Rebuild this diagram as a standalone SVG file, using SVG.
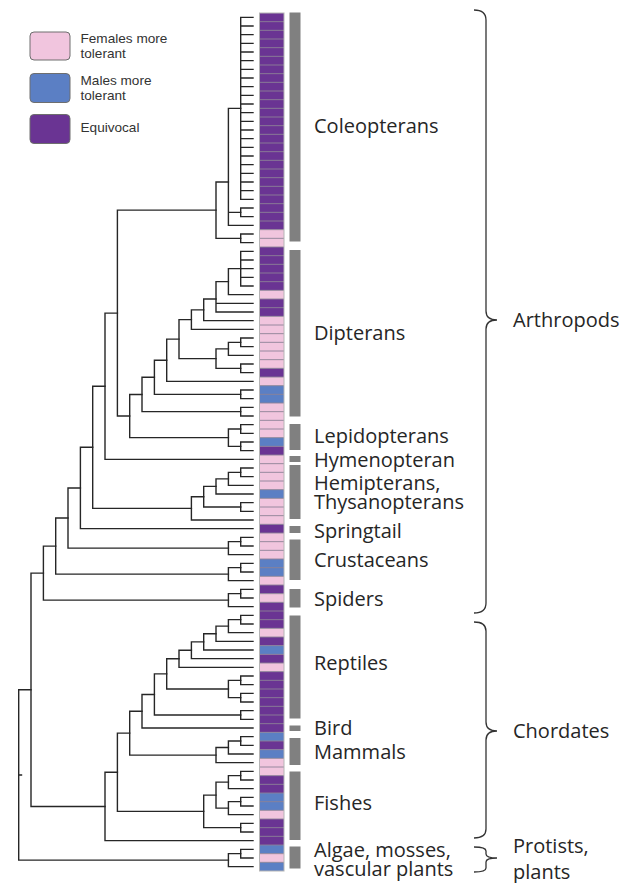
<svg xmlns="http://www.w3.org/2000/svg" width="630" height="883" viewBox="0 0 630 883">
<style>
.tree{fill:none;stroke:#262626;stroke-width:1.4;stroke-linecap:square}
.F{fill:#f1c5de}
.M{fill:#5b7fc4}
.E{fill:#6a3493}
.sep{fill:none;stroke:#8c8296;stroke-width:0.9}
.bar{fill:#808080}
.lg{stroke:#6e6e6e;stroke-width:1}
.lt{font-family:"Liberation Sans",Arial,sans-serif;font-size:13.6px;fill:#333}
.lab{font-family:"Open Sans","Noto Sans",sans-serif;font-size:20px;fill:#262626}
.brace{fill:none;stroke:#333;stroke-width:1.3}
</style>
<rect width="630" height="883" fill="#fff"/>
<g id="legend">
<rect class="lg F" x="30" y="32" width="40" height="28" rx="4"/>
<rect class="lg M" x="30" y="73.5" width="40" height="29" rx="4"/>
<rect class="lg E" x="30" y="114.5" width="40" height="29" rx="4"/>
<text class="lt" x="80.5" y="43">Females more</text>
<text class="lt" x="80.5" y="57.5">tolerant</text>
<text class="lt" x="80.5" y="84.5">Males more</text>
<text class="lt" x="80.5" y="99.5">tolerant</text>
<text class="lt" x="80.5" y="132">Equivocal</text>
</g>
<g id="connectors" class="tree">
<path d="M240.7,17.33V199.33M240.7,17.33H253M240.7,26H253M240.7,34.67H253M240.7,43.33H253M240.7,52H253M240.7,60.67H253M240.7,69.33H253M240.7,78H253M240.7,86.67H253M240.7,95.33H253M240.7,104H253M240.7,112.67H253M240.7,121.33H253M240.7,130H253M240.7,138.67H253M240.7,147.33H253M240.7,156H253M240.7,164.67H253M240.7,173.33H253M240.7,182H253M240.7,190.67H253M240.7,199.33H253"/>
<path d="M240.7,208V216.67M240.7,208H253M240.7,216.67H253"/>
<path d="M228.4,108.33V225.33M228.4,108.33H240.7M228.4,212.33H240.7M228.4,225.33H253"/>
<path d="M240.7,234V242.67M240.7,234H253M240.7,242.67H253"/>
<path d="M216,182V238.33M216,182H228.4M216,238.33H240.7"/>
<path d="M240.7,251.33V286M240.7,251.33H253M240.7,260H253M240.7,268.67H253M240.7,277.33H253M240.7,286H253"/>
<path d="M228.4,268.67V294.67M228.4,268.67H240.7M228.4,294.67H253"/>
<path d="M216,281.67V312M216,281.67H228.4M216,303.33H253M216,312H253"/>
<path d="M203.7,299V320.67M203.7,299H216M203.7,320.67H253"/>
<path d="M191.4,309.83V329.33M191.4,309.83H203.7M191.4,329.33H253"/>
<path d="M240.7,338V346.67M240.7,338H253M240.7,346.67H253"/>
<path d="M228.4,342.33V355.33M228.4,342.33H240.7M228.4,355.33H253"/>
<path d="M240.7,364V372.67M240.7,364H253M240.7,372.67H253"/>
<path d="M216,348.83V368.33M216,348.83H228.4M216,368.33H240.7"/>
<path d="M179,319.58V358.58M179,319.58H191.4M179,358.58H216"/>
<path d="M166.7,339.08V381.33M166.7,339.08H179M166.7,381.33H253"/>
<path d="M240.7,390V398.67M240.7,390H253M240.7,398.67H253"/>
<path d="M154.4,360.21V394.33M154.4,360.21H166.7M154.4,394.33H240.7"/>
<path d="M240.7,407.33V416M240.7,407.33H253M240.7,416H253"/>
<path d="M142,377.27V411.67M142,377.27H154.4M142,411.67H240.7"/>
<path d="M240.7,424.67V433.33M240.7,424.67H253M240.7,433.33H253"/>
<path d="M240.7,442V450.67M240.7,442H253M240.7,450.67H253"/>
<path d="M228.4,429V446.33M228.4,429H240.7M228.4,446.33H240.7"/>
<path d="M129.7,394.47V437.67M129.7,394.47H142M129.7,437.67H228.4"/>
<path d="M117.4,210.17V416.07M117.4,210.17H216M117.4,416.07H129.7"/>
<path d="M105,313.12V459.33M105,313.12H117.4M105,459.33H253"/>
<path d="M240.7,468V476.67M240.7,468H253M240.7,476.67H253"/>
<path d="M228.4,472.33V485.33M228.4,472.33H240.7M228.4,485.33H253"/>
<path d="M216,478.83V494M216,478.83H228.4M216,494H253"/>
<path d="M240.7,502.67V511.33M240.7,502.67H253M240.7,511.33H253"/>
<path d="M203.7,486.42V507M203.7,486.42H216M203.7,507H240.7"/>
<path d="M191.4,496.71V520M191.4,496.71H203.7M191.4,520H253"/>
<path d="M92.7,386.23V508.35M92.7,386.23H105M92.7,508.35H191.4"/>
<path d="M80.4,447.29V528.67M80.4,447.29H92.7M80.4,528.67H253"/>
<path d="M240.7,537.33V546M240.7,537.33H253M240.7,546H253"/>
<path d="M228.4,541.67V554.67M228.4,541.67H240.7M228.4,554.67H253"/>
<path d="M68,487.98V548.17M68,487.98H80.4M68,548.17H228.4"/>
<path d="M240.7,563.33V572M240.7,563.33H253M240.7,572H253"/>
<path d="M228.4,567.67V580.67M228.4,567.67H240.7M228.4,580.67H253"/>
<path d="M55.7,518.07V574.17M55.7,518.07H68M55.7,574.17H228.4"/>
<path d="M240.7,589.33V598M240.7,589.33H253M240.7,598H253"/>
<path d="M228.4,593.67V606.67M228.4,593.67H240.7M228.4,606.67H253"/>
<path d="M43.4,546.12V600.17M43.4,546.12H55.7M43.4,600.17H228.4"/>
<path d="M240.7,615.33V624M240.7,615.33H253M240.7,624H253"/>
<path d="M228.4,619.67V632.67M228.4,619.67H240.7M228.4,632.67H253"/>
<path d="M216,626.17V641.33M216,626.17H228.4M216,641.33H253"/>
<path d="M203.7,633.75V650M203.7,633.75H216M203.7,650H253"/>
<path d="M191.4,641.88V658.67M191.4,641.88H203.7M191.4,658.67H253"/>
<path d="M179,650.27V667.33M179,650.27H191.4M179,667.33H253"/>
<path d="M240.7,676V684.67M240.7,676H253M240.7,684.67H253"/>
<path d="M240.7,693.33V702M240.7,693.33H253M240.7,702H253"/>
<path d="M228.4,680.33V697.67M228.4,680.33H240.7M228.4,697.67H240.7"/>
<path d="M166.7,658.8V689M166.7,658.8H179M166.7,689H228.4"/>
<path d="M240.7,710.67V719.33M240.7,710.67H253M240.7,719.33H253"/>
<path d="M154.4,673.9V715M154.4,673.9H166.7M154.4,715H240.7"/>
<path d="M142,694.45V728M142,694.45H154.4M142,728H253"/>
<path d="M240.7,736.67V745.33M240.7,736.67H253M240.7,745.33H253"/>
<path d="M228.4,741V754M228.4,741H240.7M228.4,754H253"/>
<path d="M216,747.5V762.67M216,747.5H228.4M216,762.67H253"/>
<path d="M129.7,711.23V755.08M129.7,711.23H142M129.7,755.08H216"/>
<path d="M240.7,771.33V780M240.7,771.33H253M240.7,780H253"/>
<path d="M228.4,775.67V788.67M228.4,775.67H240.7M228.4,788.67H253"/>
<path d="M240.7,797.33V806M240.7,797.33H253M240.7,806H253"/>
<path d="M228.4,801.67V814.67M228.4,801.67H240.7M228.4,814.67H253"/>
<path d="M216,782.17V808.17M216,782.17H228.4M216,808.17H228.4"/>
<path d="M240.7,823.33V832M240.7,823.33H253M240.7,832H253"/>
<path d="M203.7,795.17V827.67M203.7,795.17H216M203.7,827.67H240.7"/>
<path d="M117.4,733.16V811.42M117.4,733.16H129.7M117.4,811.42H203.7"/>
<path d="M105,772.29V840.67M105,772.29H117.4M105,840.67H253"/>
<path d="M240.7,849.33V858M240.7,849.33H253M240.7,858H253"/>
<path d="M228.4,853.67V866.67M228.4,853.67H240.7M228.4,866.67H253"/>
<path d="M31,573.14V806.48M31,573.14H43.4M31,806.48H105"/>
<path d="M18.7,689.81V860.17M18.7,689.81H31M18.7,860.17H228.4M18.7,775H21.5"/>
</g>
<g id="strip">
<rect class="E" x="259.5" y="13" width="24.5" height="216.67"/>
<rect class="F" x="259.5" y="229.67" width="24.5" height="17.33"/>
<rect class="E" x="259.5" y="247" width="24.5" height="43.33"/>
<rect class="F" x="259.5" y="290.33" width="24.5" height="8.67"/>
<rect class="E" x="259.5" y="299" width="24.5" height="17.33"/>
<rect class="F" x="259.5" y="316.33" width="24.5" height="52"/>
<rect class="E" x="259.5" y="368.33" width="24.5" height="8.67"/>
<rect class="F" x="259.5" y="377" width="24.5" height="8.67"/>
<rect class="M" x="259.5" y="385.67" width="24.5" height="17.33"/>
<rect class="F" x="259.5" y="403" width="24.5" height="34.67"/>
<rect class="M" x="259.5" y="437.67" width="24.5" height="8.67"/>
<rect class="E" x="259.5" y="446.33" width="24.5" height="8.67"/>
<rect class="F" x="259.5" y="455" width="24.5" height="34.67"/>
<rect class="M" x="259.5" y="489.67" width="24.5" height="8.67"/>
<rect class="F" x="259.5" y="498.33" width="24.5" height="26"/>
<rect class="E" x="259.5" y="524.33" width="24.5" height="8.67"/>
<rect class="F" x="259.5" y="533" width="24.5" height="26"/>
<rect class="M" x="259.5" y="559" width="24.5" height="17.33"/>
<rect class="F" x="259.5" y="576.33" width="24.5" height="8.67"/>
<rect class="E" x="259.5" y="585" width="24.5" height="8.67"/>
<rect class="F" x="259.5" y="593.67" width="24.5" height="8.67"/>
<rect class="E" x="259.5" y="602.33" width="24.5" height="26"/>
<rect class="F" x="259.5" y="628.33" width="24.5" height="8.67"/>
<rect class="E" x="259.5" y="637" width="24.5" height="8.67"/>
<rect class="M" x="259.5" y="645.67" width="24.5" height="8.67"/>
<rect class="E" x="259.5" y="654.33" width="24.5" height="8.67"/>
<rect class="F" x="259.5" y="663" width="24.5" height="8.67"/>
<rect class="E" x="259.5" y="671.67" width="24.5" height="60.67"/>
<rect class="M" x="259.5" y="732.33" width="24.5" height="8.67"/>
<rect class="E" x="259.5" y="741" width="24.5" height="8.67"/>
<rect class="M" x="259.5" y="749.67" width="24.5" height="8.67"/>
<rect class="F" x="259.5" y="758.33" width="24.5" height="17.33"/>
<rect class="E" x="259.5" y="775.67" width="24.5" height="17.33"/>
<rect class="M" x="259.5" y="793" width="24.5" height="17.33"/>
<rect class="F" x="259.5" y="810.33" width="24.5" height="8.67"/>
<rect class="E" x="259.5" y="819" width="24.5" height="26"/>
<rect class="M" x="259.5" y="845" width="24.5" height="8.67"/>
<rect class="F" x="259.5" y="853.67" width="24.5" height="8.67"/>
<rect class="M" x="259.5" y="862.33" width="24.5" height="8.67"/>
<path class="sep" d="M259.5,21.67h24.5M259.5,30.33h24.5M259.5,39h24.5M259.5,47.67h24.5M259.5,56.33h24.5M259.5,65h24.5M259.5,73.67h24.5M259.5,82.33h24.5M259.5,91h24.5M259.5,99.67h24.5M259.5,108.33h24.5M259.5,117h24.5M259.5,125.67h24.5M259.5,134.33h24.5M259.5,143h24.5M259.5,151.67h24.5M259.5,160.33h24.5M259.5,169h24.5M259.5,177.67h24.5M259.5,186.33h24.5M259.5,195h24.5M259.5,203.67h24.5M259.5,212.33h24.5M259.5,221h24.5M259.5,229.67h24.5M259.5,238.33h24.5M259.5,247h24.5M259.5,255.67h24.5M259.5,264.33h24.5M259.5,273h24.5M259.5,281.67h24.5M259.5,290.33h24.5M259.5,299h24.5M259.5,307.67h24.5M259.5,316.33h24.5M259.5,325h24.5M259.5,333.67h24.5M259.5,342.33h24.5M259.5,351h24.5M259.5,359.67h24.5M259.5,368.33h24.5M259.5,377h24.5M259.5,385.67h24.5M259.5,394.33h24.5M259.5,403h24.5M259.5,411.67h24.5M259.5,420.33h24.5M259.5,429h24.5M259.5,437.67h24.5M259.5,446.33h24.5M259.5,455h24.5M259.5,463.67h24.5M259.5,472.33h24.5M259.5,481h24.5M259.5,489.67h24.5M259.5,498.33h24.5M259.5,507h24.5M259.5,515.67h24.5M259.5,524.33h24.5M259.5,533h24.5M259.5,541.67h24.5M259.5,550.33h24.5M259.5,559h24.5M259.5,567.67h24.5M259.5,576.33h24.5M259.5,585h24.5M259.5,593.67h24.5M259.5,602.33h24.5M259.5,611h24.5M259.5,619.67h24.5M259.5,628.33h24.5M259.5,637h24.5M259.5,645.67h24.5M259.5,654.33h24.5M259.5,663h24.5M259.5,671.67h24.5M259.5,680.33h24.5M259.5,689h24.5M259.5,697.67h24.5M259.5,706.33h24.5M259.5,715h24.5M259.5,723.67h24.5M259.5,732.33h24.5M259.5,741h24.5M259.5,749.67h24.5M259.5,758.33h24.5M259.5,767h24.5M259.5,775.67h24.5M259.5,784.33h24.5M259.5,793h24.5M259.5,801.67h24.5M259.5,810.33h24.5M259.5,819h24.5M259.5,827.67h24.5M259.5,836.33h24.5M259.5,845h24.5M259.5,853.67h24.5M259.5,862.33h24.5"/>
<rect x="259.5" y="13" width="24.5" height="858" fill="none" stroke="#b5b5b5" stroke-width="1"/>
</g>
<g id="bars">
<rect class="bar" x="289.5" y="12.5" width="11" height="229"/>
<rect class="bar" x="289.5" y="250" width="11" height="166.5"/>
<rect class="bar" x="289.5" y="424" width="11" height="26"/>
<rect class="bar" x="289.5" y="456" width="11" height="6"/>
<rect class="bar" x="289.5" y="465" width="11" height="54"/>
<rect class="bar" x="289.5" y="526" width="11" height="7"/>
<rect class="bar" x="289.5" y="539.5" width="11" height="40.5"/>
<rect class="bar" x="289.5" y="589" width="11" height="18.5"/>
<rect class="bar" x="289.5" y="615.5" width="11" height="103"/>
<rect class="bar" x="289.5" y="725.5" width="11" height="5.5"/>
<rect class="bar" x="289.5" y="738" width="11" height="27"/>
<rect class="bar" x="289.5" y="771.5" width="11" height="68.5"/>
<rect class="bar" x="289.5" y="846.5" width="11" height="22"/>
</g>
<g id="labels">
<text class="lab" x="314" y="132.5">Coleopterans</text>
<text class="lab" x="314" y="339.5">Dipterans</text>
<text class="lab" x="314" y="442.5">Lepidopterans</text>
<text class="lab" x="314" y="466.5">Hymenopteran</text>
<text class="lab" x="314" y="489.5">Hemipterans,</text>
<text class="lab" x="314" y="508.5">Thysanopterans</text>
<text class="lab" x="314" y="537.5">Springtail</text>
<text class="lab" x="314" y="566.5">Crustaceans</text>
<text class="lab" x="314" y="605.5">Spiders</text>
<text class="lab" x="314" y="669.5">Reptiles</text>
<text class="lab" x="314" y="734.5">Bird</text>
<text class="lab" x="314" y="758.5">Mammals</text>
<text class="lab" x="314" y="809.5">Fishes</text>
<text class="lab" x="314" y="856.5">Algae, mosses,</text>
<text class="lab" x="314" y="875.5">vascular plants</text>
</g>
<g id="clades">
<path class="brace" d="M474,10Q486,10 486,20V311Q486,320 497,320Q486,320 486,329V603Q486,613 474,613"/>
<path class="brace" d="M474,622Q486,622 486,631V722Q486,731 497,731Q486,731 486,740V829Q486,838 474,838"/>
<path class="brace" d="M474,847Q486,847 486,851V854Q486,858 497,858Q486,858 486,862V868Q486,872 474,872"/>
<text class="lab" x="513" y="326.5">Arthropods</text>
<text class="lab" x="513" y="737.5">Chordates</text>
<text class="lab" x="513" y="852.5">Protists,</text>
<text class="lab" x="513" y="878.5">plants</text>
</g>
</svg>
